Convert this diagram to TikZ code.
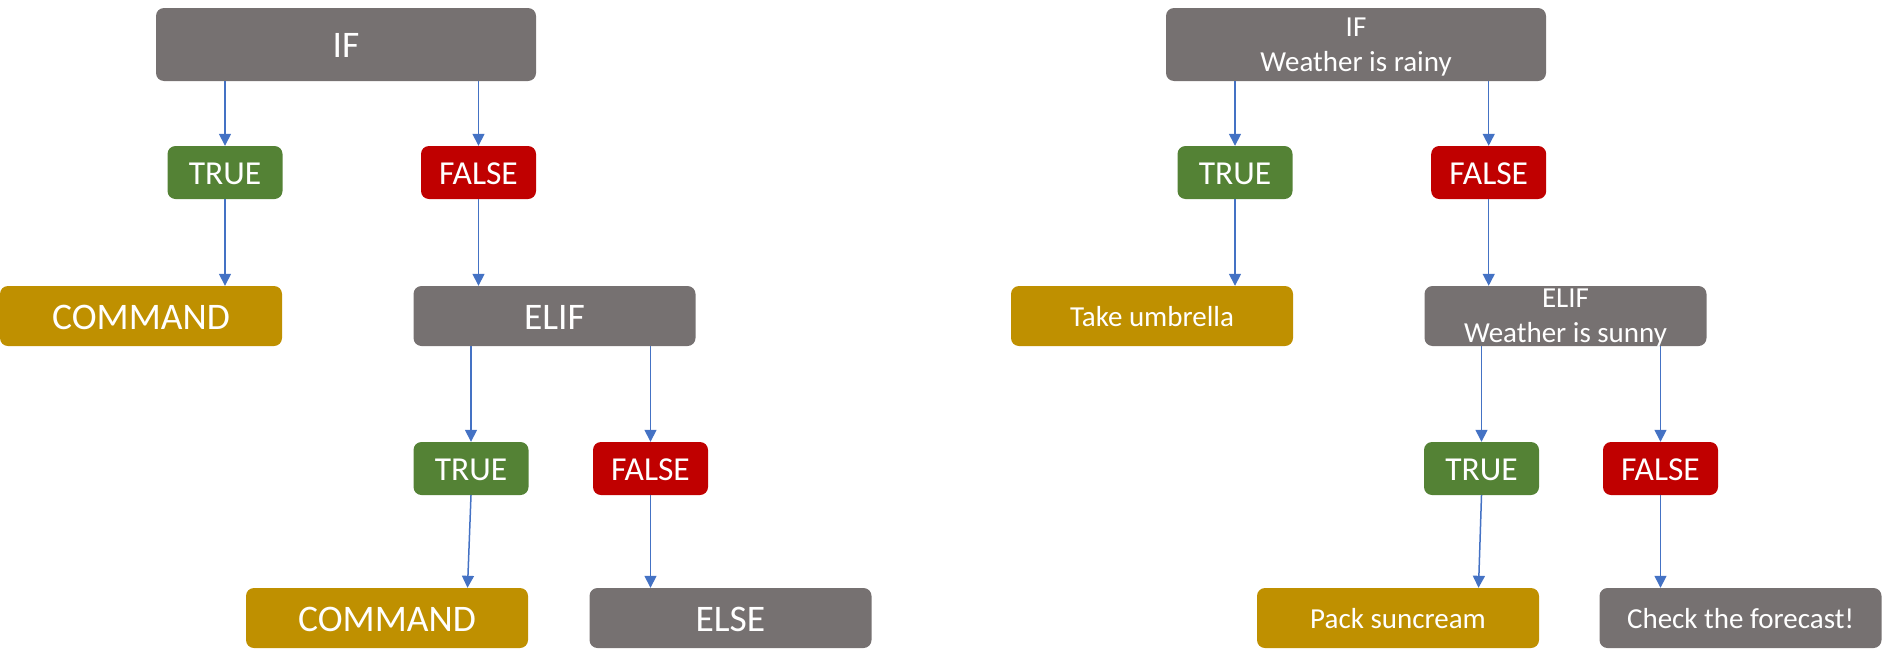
\documentclass[tikz,border=0pt]{standalone}
\usepackage{fontspec}
\setmainfont{Carlito}
\usetikzlibrary{arrows.meta}
\definecolor{ifgray}{RGB}{118,113,113}
\definecolor{truegreen}{RGB}{84,130,53}
\definecolor{falsered}{RGB}{192,0,0}
\definecolor{cmdgold}{RGB}{191,144,0}
\definecolor{arrowblue}{RGB}{68,114,196}
\tikzstyle{arrow} = [line width=1.5pt,-{Triangle[width=12pt,length=12pt]},color=arrowblue]
\tikzstyle{basebox} = [rectangle, rounded corners=8pt, inner sep=0pt, text=white, align=center, font=\fontsize{37.5}{44}\selectfont, text height=26pt, text depth=0pt]
\tikzstyle{ifbox} = [basebox, fill=ifgray, minimum width=380pt, minimum height=73pt]
\tikzstyle{truebox} = [basebox, fill=truegreen, minimum width=115pt, minimum height=53pt, font=\fontsize{33.5}{40}\selectfont, text height=24pt]
\tikzstyle{falsebox} = [basebox, fill=falsered, minimum width=115pt, minimum height=53pt, font=\fontsize{33.5}{40}\selectfont, text height=24pt]
\tikzstyle{cmdbox} = [basebox, fill=cmdgold, minimum width=282pt, minimum height=60pt]
\tikzstyle{elifbox} = [basebox, fill=ifgray, minimum width=282pt, minimum height=60pt]
\tikzstyle{smalltext} = [font=\fontsize{29}{35}\selectfont, text height=21pt]
\tikzstyle{twolines} = [font=\fontsize{29}{35}\selectfont, text height=, text depth=-4pt]

\begin{document}
\begin{tikzpicture}[x=1pt, y=-1pt]
\useasboundingbox (0,0) rectangle (1882,664);

% general form
\node[ifbox] (ifL) at (346,44.5) {IF};
\node[truebox] (tL) at (225,172.5) {TRUE};
\node[falsebox] (fL) at (478.5,172.5) {FALSE};
\node[cmdbox] (cmdL) at (141,316) {COMMAND};
\node[elifbox] (elifL) at (554.5,316) {ELIF};
\node[truebox] (tLL) at (471,468.5) {TRUE};
\node[falsebox] (fLL) at (650.5,468.5) {FALSE};
\node[cmdbox] (cmdLL) at (387,618) {COMMAND};
\node[elifbox] (elseL) at (730.5,618) {ELSE};

\draw[arrow] (ifL.south -| tL.north) -- (tL.north);
\draw[arrow] (ifL.south -| fL.north) -- (fL.north);
\draw[arrow] (tL.south) -- (tL.south |- cmdL.north);
\draw[arrow] (fL.south) -- (fL.south |- elifL.north);
\draw[arrow] (elifL.south -| tLL.north) -- (tLL.north);
\draw[arrow] (elifL.south -| fLL.north) -- (fLL.north);
\draw[arrow] (tLL.south) -- ([xshift=-3.5pt]tLL.south |- cmdLL.north);
\draw[arrow] (fLL.south) -- (fLL.south |- elseL.north);

% weather example
\node[ifbox, twolines] (ifR) at (1356,44.5) {IF\\Weather is rainy};
\node[truebox] (tR) at (1235,172.5) {TRUE};
\node[falsebox] (fR) at (1488.7,172.5) {FALSE};
\node[cmdbox, smalltext] (cmdR) at (1152,316) {Take umbrella};
\node[elifbox, twolines] (elifR) at (1565.5,316) {ELIF\\Weather is sunny};
\node[truebox] (tRR) at (1481.5,468.5) {TRUE};
\node[falsebox] (fRR) at (1660.5,468.5) {FALSE};
\node[cmdbox, smalltext] (cmdRR) at (1398,618) {Pack suncream};
\node[elifbox, smalltext] (elseR) at (1740.5,618) {Check the forecast!};

\draw[arrow] (ifR.south -| tR.north) -- (tR.north);
\draw[arrow] (ifR.south -| fR.north) -- (fR.north);
\draw[arrow] (tR.south) -- (tR.south |- cmdR.north);
\draw[arrow] (fR.south) -- (fR.south |- elifR.north);
\draw[arrow] (elifR.south -| tRR.north) -- (tRR.north);
\draw[arrow] (elifR.south -| fRR.north) -- (fRR.north);
\draw[arrow] (tRR.south) -- ([xshift=-3pt]tRR.south |- cmdRR.north);
\draw[arrow] (fRR.south) -- (fRR.south |- elseR.north);
\end{tikzpicture}
\end{document}
